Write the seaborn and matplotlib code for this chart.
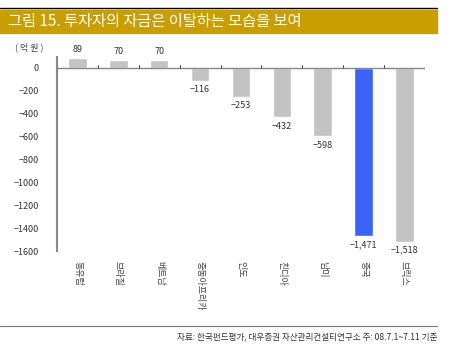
import matplotlib
matplotlib.use("Agg")
import matplotlib.pyplot as plt
import seaborn as sns
import pandas as pd

regions = ["동유럽", "브라질", "베트남", "중동아프리카", "인도", "친디아", "남미", "중국", "브릭스"]
flows = [89, 70, 70, -116, -253, -432, -598, -1471, -1518]
highlight = "중국"
yticks = [0, -200, -400, -600, -800, -1000, -1200, -1400, -1600]

sns.set_style("white")
plt.rcParams['font.family'] = ['Noto Sans CJK KR', 'DejaVu Sans']

df = pd.DataFrame({"region": regions, "flow": flows})
colors = ["#3A62F8" if r == highlight else "#C3C3C3" for r in regions]

fig = plt.figure(figsize=(4.5, 3.63), dpi=100)
ax = fig.add_axes([0.127, 0.3085, 0.817, 0.5345])

sns.barplot(data=df, x="region", y="flow", hue="region", palette=colors,
            legend=False, width=0.45, ax=ax, saturation=1)

ax.set_xlim(-0.5, len(regions) - 0.5)
ax.set_ylim(-1600, 96)
ax.set_yticks(yticks)
ax.set_yticklabels([f"{t}".replace("-", "\u2212") for t in yticks], fontsize=6.5, color="#333333")
ax.set_xticks(range(len(regions)))
ax.set_xticklabels([])
ax.tick_params(axis="x", length=0)
ax.tick_params(axis="y", direction="in", length=3, color="#777777", width=0.8, pad=13)
ax.set_xlabel("")
ax.set_ylabel("")

for s in ["top", "right", "bottom"]:
    ax.spines[s].set_visible(False)
ax.spines["left"].set_color("#888888")
ax.spines["left"].set_linewidth(1.5)
ax.axhline(0, color="#888888", lw=1.0, zorder=3)
for k in range(1, len(regions) + 1):
    ax.plot([k - 0.5, k - 0.5], [0, 22], color="#555555", lw=0.8, zorder=3)

for i, (r, v) in enumerate(zip(regions, flows)):
    txt = f"{v:,}".replace("-", "\u2212")
    if v >= 0:
        ax.annotate(txt, (i, v), xytext=(0, 3), textcoords="offset points",
                    ha="center", va="bottom", fontsize=6.5, color="#333333")
    else:
        ax.annotate(txt, (i, v), xytext=(0, -3), textcoords="offset points",
                    ha="center", va="top", fontsize=6.5, color="#333333")
    ax.text(i, -1685, r, rotation=-90, ha="center", va="top",
            fontsize=6.5, color="#444444")

# title bar
fig.patches.append(plt.Rectangle((0, 1 - 33 / 363), 437 / 450, 23 / 363,
                                 transform=fig.transFigure, color="#C99E00", zorder=0))
fig.lines.append(plt.Line2D([0, 437 / 450], [1 - 8 / 363, 1 - 8 / 363],
                            transform=fig.transFigure, color="black", lw=1))
fig.text(0.018, 1 - 21.5 / 363, "그림 15. 투자자의 자금은 이탈하는 모습을 보여",
         color="white", fontsize=11, va="center", ha="left")
fig.text(0.033, 1 - 47 / 363, "( 억 원 )", color="#444444", fontsize=6.5, va="center")

fig.lines.append(plt.Line2D([0, 437 / 450], [1 - 326 / 363, 1 - 326 / 363],
                            transform=fig.transFigure, color="#777777", lw=0.8))
fig.text(437 / 450, 1 - 337 / 363,
         "자료: 한국펀드평가, 대우증권 자산관리컨설티연구소 주: 08.7.1~7.11 기준",
         color="#333333", fontsize=6.2, ha="right", va="center")

fig.savefig("out.png", dpi=100)
